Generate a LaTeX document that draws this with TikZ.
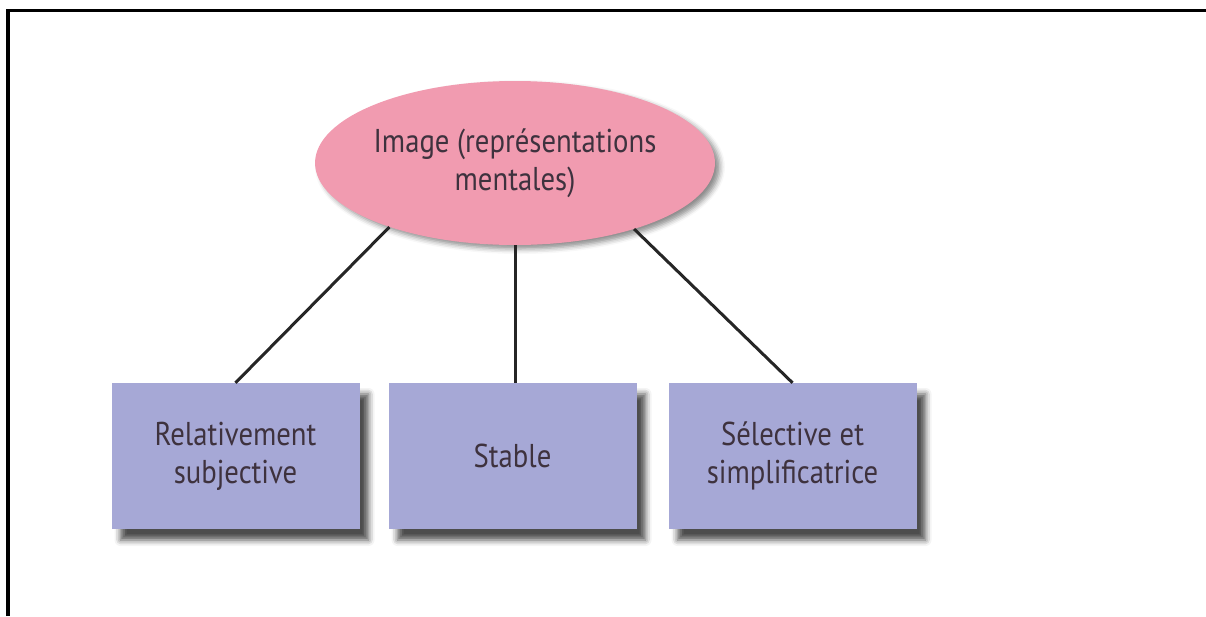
\documentclass[tikz,border=0pt]{standalone}
\usepackage{fontspec}
\setmainfont[FakeStretch=0.87]{PT Sans}
\usetikzlibrary{shapes.geometric,shadows.blur}
\definecolor{ovalpink}{RGB}{241,155,176}
\definecolor{boxblue}{RGB}{166,168,214}
\definecolor{labelink}{RGB}{62,50,62}
\tikzset{
  labelfont/.style={font=\fontsize{33}{38}\selectfont, text=labelink, align=center},
  oval/.style={ellipse, fill=ovalpink, minimum width=354pt, minimum height=164pt,
    inner sep=0pt, labelfont,
    blur shadow={shadow xshift=5pt, shadow yshift=-4pt, shadow blur radius=5pt, shadow opacity=45}},
  card/.style={rectangle, fill=boxblue, minimum width=248pt, minimum height=146pt,
    inner sep=0pt, labelfont,
    blur shadow={shadow xshift=9pt, shadow yshift=-11pt, shadow blur radius=6pt, shadow opacity=70}},
  link/.style={line width=3pt, draw=black!85},
}
\begin{document}
\begin{tikzpicture}[x=1pt, y=-1pt]
  \useasboundingbox (0,0) rectangle (1206,616);
  % open frame along the top and left edges
  \draw[line width=3.2pt] (8,616) -- (8,10.5) -- (1206,10.5);

  \node[oval] (img) at (515,163) {Image (représentations\\mentales)};

  \node[card] (rel) at (235.5,456) {Relativement\\subjective};
  \node[card] (sta) at (512.5,456) {Stable};
  \node[card] (sel) at (792.5,456) {Sélective et\\simplificatrice};

  \draw[link] (img.207) -- (rel.north);
  \draw[link] (img.south) -- (img.south |- sta.north);
  \draw[link] (img.331) -- (sel.north);
\end{tikzpicture}
\end{document}
